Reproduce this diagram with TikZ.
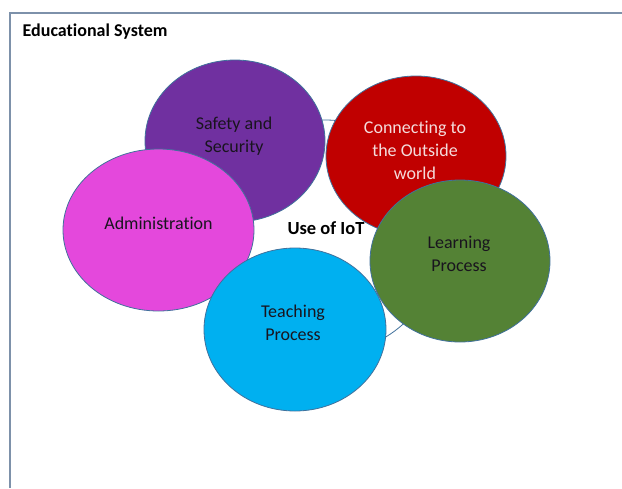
\documentclass[tikz,border=0pt]{standalone}
\usepackage{fontspec}
\setmainfont{Carlito}[Ligatures={NoCommon}]
\usetikzlibrary{shapes.geometric}
\definecolor{frameC}{RGB}{125,145,170}
\definecolor{bordC}{RGB}{65,113,156}
\definecolor{purpleC}{RGB}{112,48,160}
\definecolor{redC}{RGB}{192,0,0}
\definecolor{magC}{RGB}{228,72,220}
\definecolor{greenC}{RGB}{84,130,53}
\definecolor{cyanC}{RGB}{0,176,240}
\definecolor{pinkT}{RGB}{244,220,220}
\definecolor{darkT}{RGB}{25,20,30}
\begin{document}
\begin{tikzpicture}[x=1pt,y=-1pt,
  bub/.style={ellipse, draw=bordC, line width=0.8pt, inner sep=0pt},
  lbl/.style={align=center, font=\fontsize{18}{23}\selectfont, inner sep=0pt, text=darkT}]
\useasboundingbox (0,0) rectangle (622,488);
\coordinate (tl) at (10,13);
\coordinate (tr) at (622,13);
\coordinate (bl) at (10,488);
\draw[frameC, line width=1.3pt] (tr) -- (tl) -- (bl);
\node[anchor=west, inner sep=0pt, font=\bfseries\fontsize{18}{22}\selectfont] (title) at (22.5,31.5) {Educational System};
% central circle
\node[bub, fill=white, minimum width=234pt, minimum height=234pt] (iot) at (325,237) {};
\node[inner sep=0pt, font=\bfseries\fontsize{18.5}{22}\selectfont] (iotT) at (326,228) {Use of IoT};
% bubbles
\node[bub, fill=purpleC, minimum width=180pt, minimum height=162pt] (safe) at (235,141) {};
\node[lbl] (safeT) at (234,136.5) {Safety and\\Security};
\node[bub, fill=redC, minimum width=180pt, minimum height=160pt] (conn) at (416,156) {};
\node[lbl, text=pinkT] (connT) at (415,150) {Connecting to\\the Outside\\world};
\node[bub, fill=magC, minimum width=191pt, minimum height=162pt] (adm) at (158.5,230) {};
\node[lbl] (admT) at (158.5,223) {Administration};
\node[bub, fill=greenC, minimum width=180pt, minimum height=162pt] (learn) at (460,261) {};
\node[lbl] (learnT) at (459,253.5) {Learning\\Process};
\node[bub, fill=cyanC, minimum width=182pt, minimum height=163pt] (teach) at (295,329.5) {};
\node[lbl] (teachT) at (293,322.5) {Teaching\\Process};
\end{tikzpicture}
\end{document}
